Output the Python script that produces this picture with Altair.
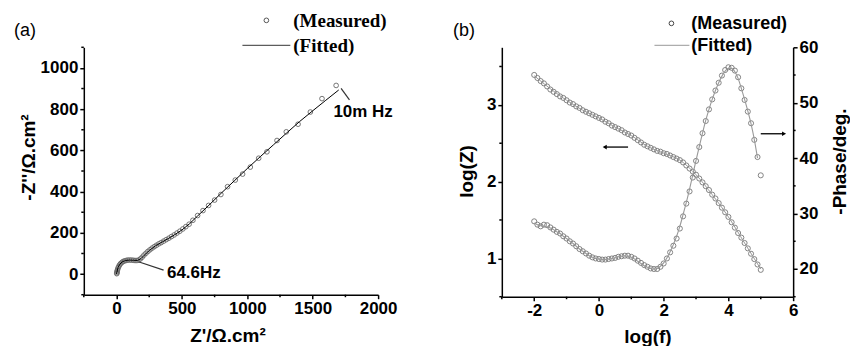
import altair as alt
import pandas as pd

# ---------------- (a) Nyquist data ----------------
nyq_zr = [2, 3, 4, 6, 9, 13, 18, 24, 31, 40, 50, 61, 73, 86, 100, 114, 128, 142, 156, 170,
          183, 196, 210, 225, 240, 256, 272, 289, 306, 324, 342, 361, 380, 400, 420, 441, 462,
          484, 507, 530, 555, 584, 620, 661, 704, 750, 798, 849, 908, 964, 1023, 1087, 1150,
          1227, 1298, 1388, 1482, 1571, 1679]
nyq_zi = [2, 6, 11, 17, 24, 31, 38, 45, 51, 56, 61, 64, 66, 68, 68, 68, 67, 66, 66, 68,
          74, 82, 92, 101, 110, 118, 126, 133, 140, 147, 153, 160, 167, 174, 182, 190, 199,
          208, 219, 230, 242, 261, 284, 308, 333, 359, 386, 424, 456, 485, 519, 562, 593,
          648, 690, 727, 786, 851, 915]
fit_zr = [0, 5, 12, 25, 45, 70, 100, 130, 160, 185, 210, 250, 300, 350, 400, 450, 500, 560,
          620, 700, 800, 900, 1000, 1100, 1200, 1300, 1400, 1500, 1600, 1699]
fit_zi = [0, 15, 32, 48, 60, 66, 68, 67, 66, 74, 90, 114, 138, 156, 174, 193, 214, 245,
          282, 330, 392, 452, 512, 570, 627, 684, 740, 792, 843, 893]

ann_a_text = ["10m Hz", "64.6Hz"]
ann_a_x = [1658, 386]
ann_a_y = [788, 3]
ptr_a_x1 = [1717, 168]
ptr_a_y1 = [901, 60]
ptr_a_x2 = [1781, 360]
ptr_a_y2 = [845, 19]

# axis ticks (major = labelled, minor = unlabelled)
a_x_major = [0, 500, 1000, 1500, 2000]
a_x_minor = [-250, 250, 750, 1250, 1750]
a_y_major = [0, 200, 400, 600, 800, 1000]
a_y_minor = [-100, 100, 300, 500, 700, 900, 1100]

# ---------------- (b) Bode data ----------------
logf = [-2.0, -1.9, -1.8, -1.7, -1.6, -1.5, -1.4, -1.3, -1.2, -1.1,
        -1.0, -0.9, -0.8, -0.7, -0.6, -0.5, -0.4, -0.3, -0.2, -0.1,
        0.0, 0.1, 0.2, 0.3, 0.4, 0.5, 0.6, 0.7, 0.8, 0.9,
        1.0, 1.1, 1.2, 1.3, 1.4, 1.5, 1.6, 1.7, 1.8, 1.9,
        2.0, 2.1, 2.2, 2.3, 2.4, 2.5, 2.6, 2.7, 2.8, 2.9,
        3.0, 3.1, 3.2, 3.3, 3.4, 3.5, 3.6, 3.7, 3.8, 3.9,
        4.0, 4.1, 4.2, 4.3, 4.4, 4.5, 4.6, 4.7, 4.8, 4.9, 5.0]
logz = [3.39, 3.35, 3.31, 3.28, 3.24, 3.20, 3.17, 3.14, 3.11, 3.09,
        3.06, 3.03, 3.01, 2.98, 2.96, 2.93, 2.91, 2.89, 2.87, 2.85,
        2.83, 2.81, 2.78, 2.76, 2.73, 2.71, 2.69, 2.67, 2.64, 2.62,
        2.60, 2.57, 2.54, 2.51, 2.48, 2.46, 2.44, 2.42, 2.40, 2.39,
        2.37, 2.36, 2.34, 2.32, 2.30, 2.28, 2.25, 2.21, 2.17, 2.13,
        2.09, 2.04, 1.99, 1.94, 1.89, 1.83, 1.78, 1.72, 1.66, 1.60,
        1.54, 1.47, 1.40, 1.33, 1.27, 1.20, 1.13, 1.06, 0.99, 0.92, 0.85]
phase = [28.6, 28.0, 27.7, 28.0, 27.9, 27.5, 27.1, 26.7, 26.4, 25.9,
         25.5, 25.0, 24.6, 24.1, 23.6, 23.2, 22.8, 22.4, 22.1, 21.9,
         21.8, 21.7, 21.7, 21.8, 21.9, 22.0, 22.2, 22.3, 22.4, 22.4,
         22.2, 21.9, 21.5, 21.1, 20.7, 20.4, 20.1, 20.0, 20.0, 20.4,
         21.0, 21.9, 23.0, 24.2, 25.5, 27.3, 29.5, 31.8, 34.0, 36.5,
         39.5, 42.0, 44.5, 46.7, 48.8, 50.6, 52.2, 53.6, 54.9, 55.9,
         56.4, 56.3, 55.8, 54.6, 52.6, 50.5, 48.4, 46.3, 43.3, 40.2, 36.9]
fit_logf_z = [-2.0, -1.5, -1.0, -0.5, 0.0, 0.5, 1.0, 1.5, 2.0, 2.5, 3.0, 3.5, 4.0, 4.5, 5.0]
fit_logz = [3.38, 3.21, 3.06, 2.93, 2.83, 2.71, 2.60, 2.46, 2.37, 2.28, 2.09, 1.83, 1.54, 1.20, 0.86]
fit_logf_p = logf[:70]
fit_phase = [28.3, 28.0, 27.8, 27.7, 27.6, 27.4, 27.1, 26.7, 26.4, 25.9,
             25.5, 25.0, 24.6, 24.1, 23.6, 23.2, 22.8, 22.4, 22.1, 21.9,
             21.8, 21.7, 21.7, 21.8, 21.9, 22.0, 22.2, 22.3, 22.4, 22.3,
             22.1, 21.8, 21.4, 21.0, 20.6, 20.3, 20.1, 20.0, 20.1, 20.5,
             21.1, 22.0, 23.1, 24.4, 25.9, 27.7, 29.8, 32.0, 34.4, 37.0,
             39.6, 42.1, 44.5, 46.8, 48.8, 50.6, 52.2, 53.6, 54.8, 55.7,
             56.2, 56.2, 55.6, 54.4, 52.6, 50.6, 48.5, 46.2, 43.4, 40.0]

arrow_z = {"x1": [0.90], "x2": [0.18], "y": [2.45]}
arrow_p = {"x1": [5.0], "x2": [5.72], "y": [44.4]}

b_x_major = [-2, 0, 2, 4, 6]
b_x_minor = [-3, -1, 1, 3, 5]
b_z_major = [1, 2, 3]
b_z_minor = [0.5, 1.5, 2.5, 3.5]
b_p_major = [20, 30, 40, 50, 60]
b_p_minor = [15, 25, 35, 45, 55]

SANS = "Liberation Sans"
SERIF = "Liberation Serif"
TICK_MAJ = 4
TICK_MIN = 2.5


def mk_axis(values, title, tx, ty, orient=None, angle=0):
    kw = dict(
        values=values,
        labelExpr="'' + datum.value",
        tickSize=TICK_MAJ, tickWidth=1.5, tickColor="black",
        domainColor="black", domainWidth=1.5,
        labelFont=SANS, labelFontWeight="bold", labelFontSize=17, labelColor="black",
        labelPadding=2, labelOverlap=False, labelFlush=False,
        grid=False,
        title=title, titleFont=SANS, titleFontWeight="bold", titleFontSize=19,
        titleColor="black", titleX=tx, titleY=ty, titleAlign="center",
        titleBaseline="middle", titleAngle=angle,
    )
    if orient:
        kw["orient"] = orient
    return alt.Axis(**kw)


one = pd.DataFrame({"k": [0]})

# ---------------- panel (a) ----------------
WA, HA = 295, 248
df_a = pd.DataFrame({"zr": nyq_zr, "zi": nyq_zi})
df_af = pd.DataFrame({"zr": fit_zr, "zi": fit_zi, "i": list(range(len(fit_zr)))})
df_ann = pd.DataFrame({"zr": ann_a_x, "zi": ann_a_y, "label": ann_a_text})
df_ptr = pd.DataFrame({"zr": ptr_a_x1, "zi": ptr_a_y1, "zr2": ptr_a_x2, "zi2": ptr_a_y2})

xa = alt.X("zr:Q", scale=alt.Scale(domain=[-250, 2000], nice=False, zero=False),
           axis=mk_axis(a_x_major, "Z'/Ω.cm²", 144, 41))
ya = alt.Y("zi:Q", scale=alt.Scale(domain=[-100, 1100], nice=False, zero=False),
           axis=mk_axis(a_y_major, "-Z''/Ω.cm²", -55, 110, angle=270))

pts_a = alt.Chart(df_a).mark_point(shape="circle", filled=False, size=22, stroke="#666666",
                                   strokeWidth=0.9, opacity=1).encode(x=xa, y=ya)
line_a = alt.Chart(df_af).mark_line(color="black", strokeWidth=1).encode(
    x="zr:Q", y="zi:Q", order="i:Q")
ptr_a = alt.Chart(df_ptr).mark_rule(color="#333333", strokeWidth=1.2).encode(
    x="zr:Q", y="zi:Q", x2="zr2:Q", y2="zi2:Q")
ann_a = alt.Chart(df_ann).mark_text(align="left", baseline="middle", font=SANS,
                                     fontWeight="bold", fontSize=17, color="black").encode(
    x="zr:Q", y="zi:Q", text="label:N")
minx_a = alt.Chart(pd.DataFrame({"zr": a_x_minor})).mark_rule(
    color="black", strokeWidth=1.5).encode(x="zr:Q", y=alt.value(HA), y2=alt.value(HA + TICK_MIN))
miny_a = alt.Chart(pd.DataFrame({"zi": a_y_minor})).mark_rule(
    color="black", strokeWidth=1.5).encode(y="zi:Q", x=alt.value(-TICK_MIN), x2=alt.value(0))

anchor = alt.Chart(one).mark_rule(opacity=0, strokeOpacity=0).encode(
    x=alt.value(-83), x2=alt.value(-82), y=alt.value(-46))
lbl_a = alt.Chart(one).mark_text(text="(a)", align="left", baseline="middle", font=SANS,
                                 fontSize=18, color="black").encode(
    x=alt.value(-70), y=alt.value(-16))
leg_a_pt = alt.Chart(one).mark_point(shape="circle", filled=False, size=22, stroke="#555555",
                                     strokeWidth=1, opacity=1).encode(
    x=alt.value(183), y=alt.value(-27))
leg_a_t1 = alt.Chart(one).mark_text(text="(Measured)", align="left", baseline="middle",
                                    font=SERIF, fontWeight="bold", fontSize=19,
                                    color="black").encode(x=alt.value(210), y=alt.value(-26))
leg_a_ln = alt.Chart(one).mark_rule(color="#333333", strokeWidth=1).encode(
    x=alt.value(159), x2=alt.value(207), y=alt.value(-2))
leg_a_t2 = alt.Chart(one).mark_text(text="(Fitted)", align="left", baseline="middle",
                                    font=SERIF, fontWeight="bold", fontSize=19,
                                    color="black").encode(x=alt.value(210), y=alt.value(-1))

chart_a = alt.layer(pts_a, line_a, ptr_a, ann_a, minx_a, miny_a, anchor, lbl_a, leg_a_pt,
                    leg_a_t1, leg_a_ln, leg_a_t2).properties(width=WA, height=HA)

# ---------------- panel (b) ----------------
WB, HB = 292, 250
df_z = pd.DataFrame({"lf": logf, "v": logz})
df_zf = pd.DataFrame({"lf": fit_logf_z, "v": fit_logz})
df_p = pd.DataFrame({"lf": logf, "p": phase})
df_pf = pd.DataFrame({"lf": fit_logf_p, "p": fit_phase})
df_arz = pd.DataFrame({"lf": arrow_z["x1"], "lf2": arrow_z["x2"], "v": arrow_z["y"]})
df_arp = pd.DataFrame({"lf": arrow_p["x1"], "lf2": arrow_p["x2"], "p": arrow_p["y"]})

xb = alt.X("lf:Q", scale=alt.Scale(domain=[-3, 6], nice=False, zero=False),
           axis=mk_axis(b_x_major, "log(f)", 146, 40))
yz = alt.Y("v:Q", scale=alt.Scale(domain=[0.5, 3.75], nice=False, zero=False),
           axis=mk_axis(b_z_major, "log(Z)", -35, 124, angle=270))
yp = alt.Y("p:Q", scale=alt.Scale(domain=[15, 60], nice=False, zero=False),
           axis=mk_axis(b_p_major, "-Phase/deg.", 46, 114, orient="right", angle=270))

pt_style = dict(shape="circle", filled=False, size=26, stroke="#777777", strokeWidth=0.9,
                opacity=1)
pts_z = alt.Chart(df_z).mark_point(**pt_style).encode(x=xb, y=yz)
line_z = alt.Chart(df_zf).mark_line(color="#999999", strokeWidth=1,
                                    interpolate="monotone").encode(x="lf:Q", y="v:Q")
arz_l = alt.Chart(df_arz).mark_rule(color="black", strokeWidth=1.3).encode(
    x="lf:Q", x2="lf2:Q", y="v:Q")
arz_h = alt.Chart(df_arz).mark_point(shape="triangle-left", filled=True, size=22,
                                     color="black", opacity=1).encode(x="lf2:Q", y="v:Q")
minz = alt.Chart(pd.DataFrame({"v": b_z_minor})).mark_rule(
    color="black", strokeWidth=1.5).encode(y="v:Q", x=alt.value(-TICK_MIN), x2=alt.value(0))
left = alt.layer(pts_z, line_z, arz_l, arz_h, minz)

pts_p = alt.Chart(df_p).mark_point(**pt_style).encode(x="lf:Q", y=yp)
line_p = alt.Chart(df_pf).mark_line(color="#999999", strokeWidth=1.1,
                                    interpolate="monotone").encode(x="lf:Q", y="p:Q")
arp_l = alt.Chart(df_arp).mark_rule(color="black", strokeWidth=1.3).encode(
    x="lf:Q", x2="lf2:Q", y="p:Q")
arp_h = alt.Chart(df_arp).mark_point(shape="triangle-right", filled=True, size=22,
                                     color="black", opacity=1).encode(x="lf2:Q", y="p:Q")
minp = alt.Chart(pd.DataFrame({"p": b_p_minor})).mark_rule(
    color="black", strokeWidth=1.5).encode(y="p:Q", x=alt.value(WB), x2=alt.value(WB + TICK_MIN))
right = alt.layer(pts_p, line_p, arp_l, arp_h, minp)

minx_b = alt.Chart(pd.DataFrame({"lf": b_x_minor})).mark_rule(
    color="black", strokeWidth=1.5).encode(x="lf:Q", y=alt.value(HB), y2=alt.value(HB + TICK_MIN))
lbl_b = alt.Chart(one).mark_text(text="(b)", align="left", baseline="middle", font=SANS,
                                 fontSize=18, color="black").encode(
    x=alt.value(-49), y=alt.value(-16))
leg_b_pt = alt.Chart(one).mark_point(shape="circle", filled=False, size=22, stroke="#444444",
                                     strokeWidth=1, opacity=1).encode(
    x=alt.value(170), y=alt.value(-24))
leg_b_t1 = alt.Chart(one).mark_text(text="(Measured)", align="left", baseline="middle",
                                    font=SANS, fontWeight="bold", fontSize=18,
                                    color="black").encode(x=alt.value(190), y=alt.value(-23))
leg_b_ln = alt.Chart(one).mark_rule(color="#999999", strokeWidth=1).encode(
    x=alt.value(153), x2=alt.value(188), y=alt.value(-2))
leg_b_t2 = alt.Chart(one).mark_text(text="(Fitted)", align="left", baseline="middle",
                                    font=SANS, fontWeight="bold", fontSize=18,
                                    color="black").encode(x=alt.value(190), y=alt.value(-1))
extras = alt.layer(minx_b, lbl_b, leg_b_pt, leg_b_t1, leg_b_ln, leg_b_t2)

chart_b = alt.layer(left, right, extras).resolve_scale(y="independent").properties(
    width=WB, height=HB)

chart = alt.hconcat(chart_a, chart_b, spacing=124, bounds="flush").properties(
    padding=0, background="white").configure_view(stroke="transparent")

chart.save("out.html", embed_options={"renderer": "svg", "actions": False})
